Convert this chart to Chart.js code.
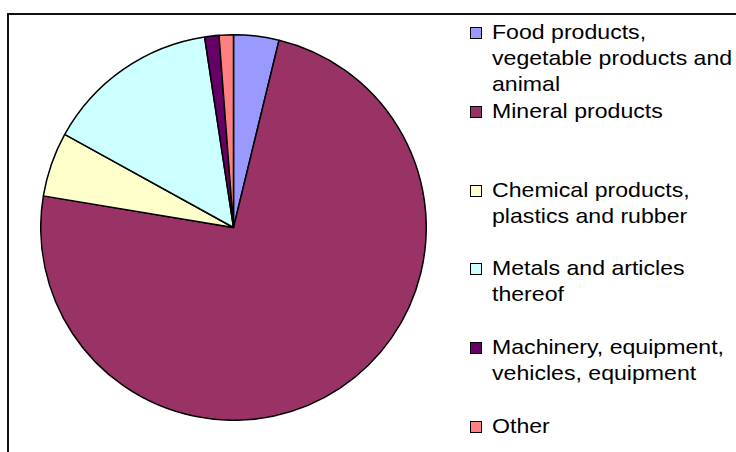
<!DOCTYPE html>
<html lang="en">
  <head>
    <meta charset="UTF-8" />
    <title>Export structure</title>
    <script src="https://cdn.jsdelivr.net/npm/chart.js@4"></script>
    <style>
      body {
        margin: 0;
        width: 736px;
        height: 452px;
        overflow: hidden;
        background: #fff;
        font-family: "Liberation Sans", Arial, sans-serif;
      }
      #frame {
        position: absolute;
        left: 7px;
        top: 13px;
        width: 800px;
        height: 500px;
        border: 2px solid #111;
      }
      #pieChart {
        position: absolute;
        left: 40px;
        top: 34px;
      }
      #legend {
        position: absolute;
        left: 0;
        top: 0;
      }
      .item {
        position: absolute;
        left: 470px;
        width: 266px;
        font-size: 21px;
        line-height: 26px;
        color: #000;
      }
      .item .box {
        position: absolute;
        left: 0;
        top: 8px;
        width: 10px;
        height: 10px;
        border: 1px solid #000;
      }
      .item .txt {
        margin-left: 22px;
        width: 222px;
        transform: scaleX(1.1);
        transform-origin: left top;
      }
    </style>
  </head>
  <body>
    <div id="frame"></div>
    <canvas id="pieChart" width="387" height="387"></canvas>
    <div id="legend"></div>
    <script>
      const categories = [
        "Food products, vegetable products and animal",
        "Mineral products",
        "Chemical products, plastics and rubber",
        "Metals and articles thereof",
        "Machinery, equipment, vehicles, equipment",
        "Other",
      ];
      // share of exports, %
      const shares = [3.8, 73.9, 5.4, 14.6, 1.2, 1.2];
      const colors = ["#9999FF", "#993366", "#FFFFCC", "#CCFFFF", "#660066", "#FF8080"];

      new Chart(document.getElementById("pieChart"), {
        type: "pie",
        data: {
          labels: categories,
          datasets: [
            {
              data: shares,
              backgroundColor: colors,
              borderColor: "#000",
              borderWidth: 1.5,
            },
          ],
        },
        options: {
          responsive: false,
          animation: false,
          layout: { padding: 0 },
          plugins: {
            legend: { display: false },
            tooltip: { enabled: false },
          },
        },
      });

      // legend on the right, one entry every ~79px
      let legendHtml = "";
      categories.forEach(function (name, idx) {
        const top = 19 + idx * 78.8;
        legendHtml +=
          `<div class="item" style="top:${top}px">` +
          `<span class="box" style="background:${colors[idx]}"></span>` +
          `<div class="txt">${name}</div></div>`;
      });
      document.getElementById("legend").innerHTML = legendHtml;
    </script>
  </body>
</html>
